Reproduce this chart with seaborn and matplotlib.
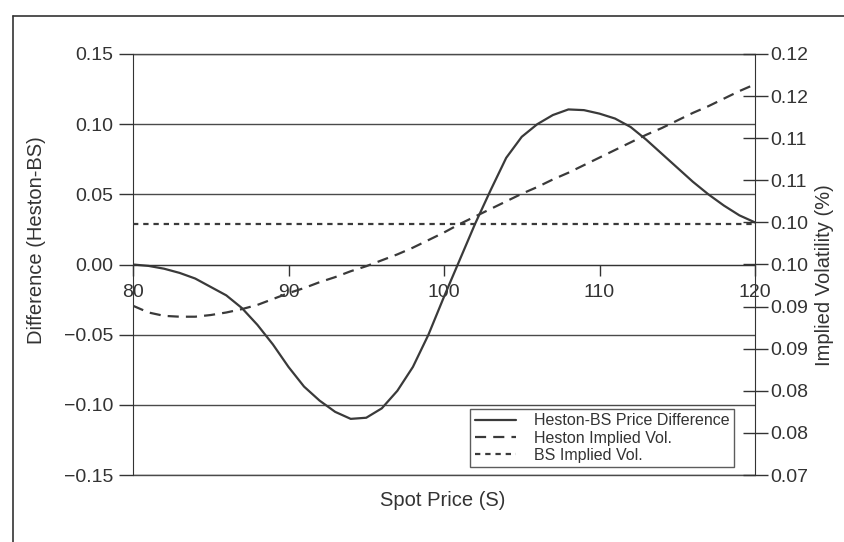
import pandas as pd
import matplotlib
matplotlib.use("Agg")
import matplotlib.pyplot as plt
from matplotlib.lines import Line2D
import seaborn as sns

# === Data ===
spot = list(range(80, 121))
price_diff = [0.000, -0.001, -0.003, -0.006, -0.010, -0.016, -0.022, -0.031, -0.043, -0.057,
              -0.073, -0.087, -0.097, -0.105, -0.110, -0.1092, -0.1025, -0.090, -0.073, -0.050,
              -0.023, 0.003, 0.029, 0.053, 0.076, 0.091, 0.100, 0.1065, 0.1105, 0.1100,
              0.1075, 0.104, 0.098, 0.089, 0.079, 0.069, 0.059, 0.050, 0.042, 0.035, 0.030]
heston_vol = [0.0901, 0.0893, 0.0889, 0.0888, 0.0888, 0.0890, 0.0893, 0.0897, 0.0902, 0.0909,
              0.0916, 0.0922, 0.0929, 0.0935, 0.0942, 0.0948, 0.0955, 0.0962, 0.0970, 0.0979,
              0.0988, 0.0998, 0.1007, 0.1016, 0.1025, 0.1034, 0.1042, 0.1051, 0.1059, 0.1068,
              0.1077, 0.1086, 0.1095, 0.1104, 0.1112, 0.1121, 0.1130, 0.1138, 0.1147, 0.1156, 0.1164]
bs_vol_level = 0.0998
bs_vol = [bs_vol_level] * len(spot)

left_ticks = [-0.15, -0.10, -0.05, 0.00, 0.05, 0.10, 0.15]
left_labels = ["\u22120.15", "\u22120.10", "\u22120.05", "0.00", "0.05", "0.10", "0.15"]
right_ticks = [0.07, 0.075, 0.08, 0.085, 0.09, 0.095, 0.10, 0.105, 0.11, 0.115, 0.12]
right_labels = ["0.07", "0.08", "0.08", "0.09", "0.09", "0.10", "0.10", "0.11", "0.11", "0.12", "0.12"]
x_ticks = [80, 90, 100, 110, 120]

df = pd.DataFrame({"spot": spot, "diff": price_diff, "heston": heston_vol, "bs": bs_vol})

# === Style ===
sns.set_style("white")
plt.rcParams['font.family'] = ['Liberation Sans', 'DejaVu Sans']
ink = "#333333"
line_col = "#3a3a3a"
W, H = 845, 542

fig = plt.figure(figsize=(8.45, 5.42), dpi=100)
ax = fig.add_axes([133 / W, 1 - 475 / H, 622 / W, 421 / H])
ax2 = ax.twinx()

sns.lineplot(data=df, x="spot", y="diff", ax=ax, color=line_col, lw=1.6,
             solid_joinstyle="round", label="Heston-BS Price Difference", legend=False)
sns.lineplot(data=df, x="spot", y="heston", ax=ax2, color=line_col, lw=1.6,
             linestyle=(0, (5, 3.2)), label="Heston Implied Vol.", legend=False)
sns.lineplot(data=df, x="spot", y="bs", ax=ax2, color=line_col, lw=1.6,
             linestyle=(0, (2.4, 2.2)), label="BS Implied Vol.", legend=False)

# === Axes ===
ax.set_xlim(80, 120)
ax.set_ylim(-0.15, 0.15)
ax2.set_ylim(0.07, 0.12)

ax.set_yticks(left_ticks)
ax.set_yticklabels(left_labels)
ax2.set_yticks(right_ticks)
ax2.set_yticklabels(right_labels)
ax.set_xticks(x_ticks)

ax.yaxis.grid(True, color="#4a4a4a", lw=1.0)
ax.set_axisbelow(True)
for yv in (left_ticks[0], left_ticks[-1]):
    ax.axhline(yv, color="#4a4a4a", lw=1.0, clip_on=False, zorder=0.5)

for a in (ax, ax2):
    a.spines["top"].set_visible(False)
ax.spines["bottom"].set_position(("data", 0))
ax2.spines["bottom"].set_visible(False)
ax.spines["bottom"].set_color(ink)
ax.spines["left"].set_color(ink)
ax2.spines["right"].set_color(ink)
ax2.spines["left"].set_visible(False)
ax.spines["right"].set_visible(False)

ax.tick_params(axis="y", direction="out", length=10, width=1, color=ink,
               labelsize=14, labelcolor=ink, pad=4, left=True)
ax.tick_params(axis="x", direction="out", length=8, width=1, color=ink,
               labelsize=14, labelcolor=ink, pad=6, bottom=True)
ax2.tick_params(axis="y", direction="inout", length=18, width=1, color=ink,
                labelsize=14, labelcolor=ink, pad=2, right=True)

ax.set_xlabel("")
ax.set_ylabel("")
ax2.set_ylabel("")
fig.text(443 / W, 1 - 500 / H, "Spot Price (S)", ha="center", va="center",
         fontsize=14.5, color=ink)
fig.text(37 / W, 1 - 240 / H, "Difference (Heston-BS)", ha="center", va="center",
         rotation=90, fontsize=14.5, color=ink)
fig.text(825 / W, 1 - 275 / H, "Implied Volatility (%)", ha="center", va="center",
         rotation=90, fontsize=14.5, color=ink)

# === Legend ===
h1, l1 = ax.get_legend_handles_labels()
h2, l2 = ax2.get_legend_handles_labels()
leg = ax2.legend(h1 + h2, l1 + l2, loc="lower right", bbox_to_anchor=(0.966, 0.018),
                 fontsize=11.5, frameon=True, fancybox=False, handlelength=2.6,
                 borderpad=0.28, labelspacing=0.15, handletextpad=1.1, borderaxespad=0)
leg.get_frame().set_edgecolor(ink)
leg.get_frame().set_linewidth(1.0)
for t in leg.get_texts():
    t.set_color(ink)

# === Outer figure frame (left and top edges) ===
fig.add_artist(Line2D([13 / W, 13 / W], [0, 1 - 16 / H], color=ink, lw=1.2))
fig.add_artist(Line2D([13 / W, 1], [1 - 16 / H, 1 - 16 / H], color=ink, lw=1.2))

fig.savefig("out.png", dpi=100)
